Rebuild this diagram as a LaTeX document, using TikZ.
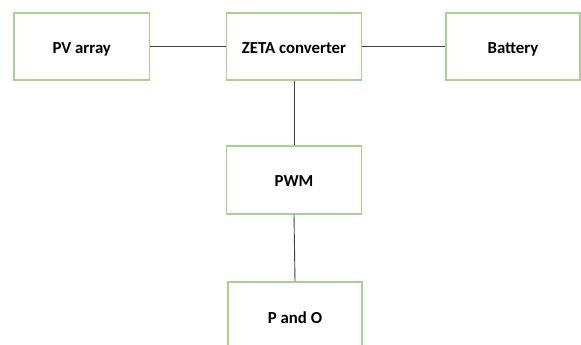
\documentclass[tikz,border=0pt]{standalone}
\usepackage{fontspec}
\setmainfont{Carlito}
\definecolor{boxgreen}{RGB}{169,209,142}
\definecolor{wire}{RGB}{64,64,64}
\begin{document}
\begin{tikzpicture}[x=1pt,y=-1pt,
  blk/.style={draw=boxgreen,line width=1.1pt,fill=white,inner sep=0pt,
    text height=13.6pt,text depth=0pt,
    font=\fontsize{16.8}{18}\selectfont\bfseries,text=black},
  wireline/.style={draw=wire,line width=0.9pt}]
\useasboundingbox (0,0) rectangle (581,345);
\fill[white] (0,0) rectangle (581,345);
\node[blk,minimum width=135.5pt,minimum height=67pt] (pv) at (81.75,46.5) {PV array};
\node[blk,minimum width=135pt,minimum height=67pt] (zeta) at (294,46.5) {ZETA converter};
\node[blk,minimum width=134pt,minimum height=67pt] (bat) at (513,46.5) {Battery};
\node[blk,minimum width=135pt,minimum height=68pt] (pwm) at (294,180) {PWM};
\node[blk,minimum width=134pt,minimum height=70pt] (po) at (295,317) {P and O};
\draw[wireline] (pv.east) -- (zeta.west);
\draw[wireline] (zeta.east) -- (bat.west);
\draw[wireline] (zeta.south) -- (pwm.north);
\draw[wireline] (pwm.south) -- (po.north);
\end{tikzpicture}
\end{document}
